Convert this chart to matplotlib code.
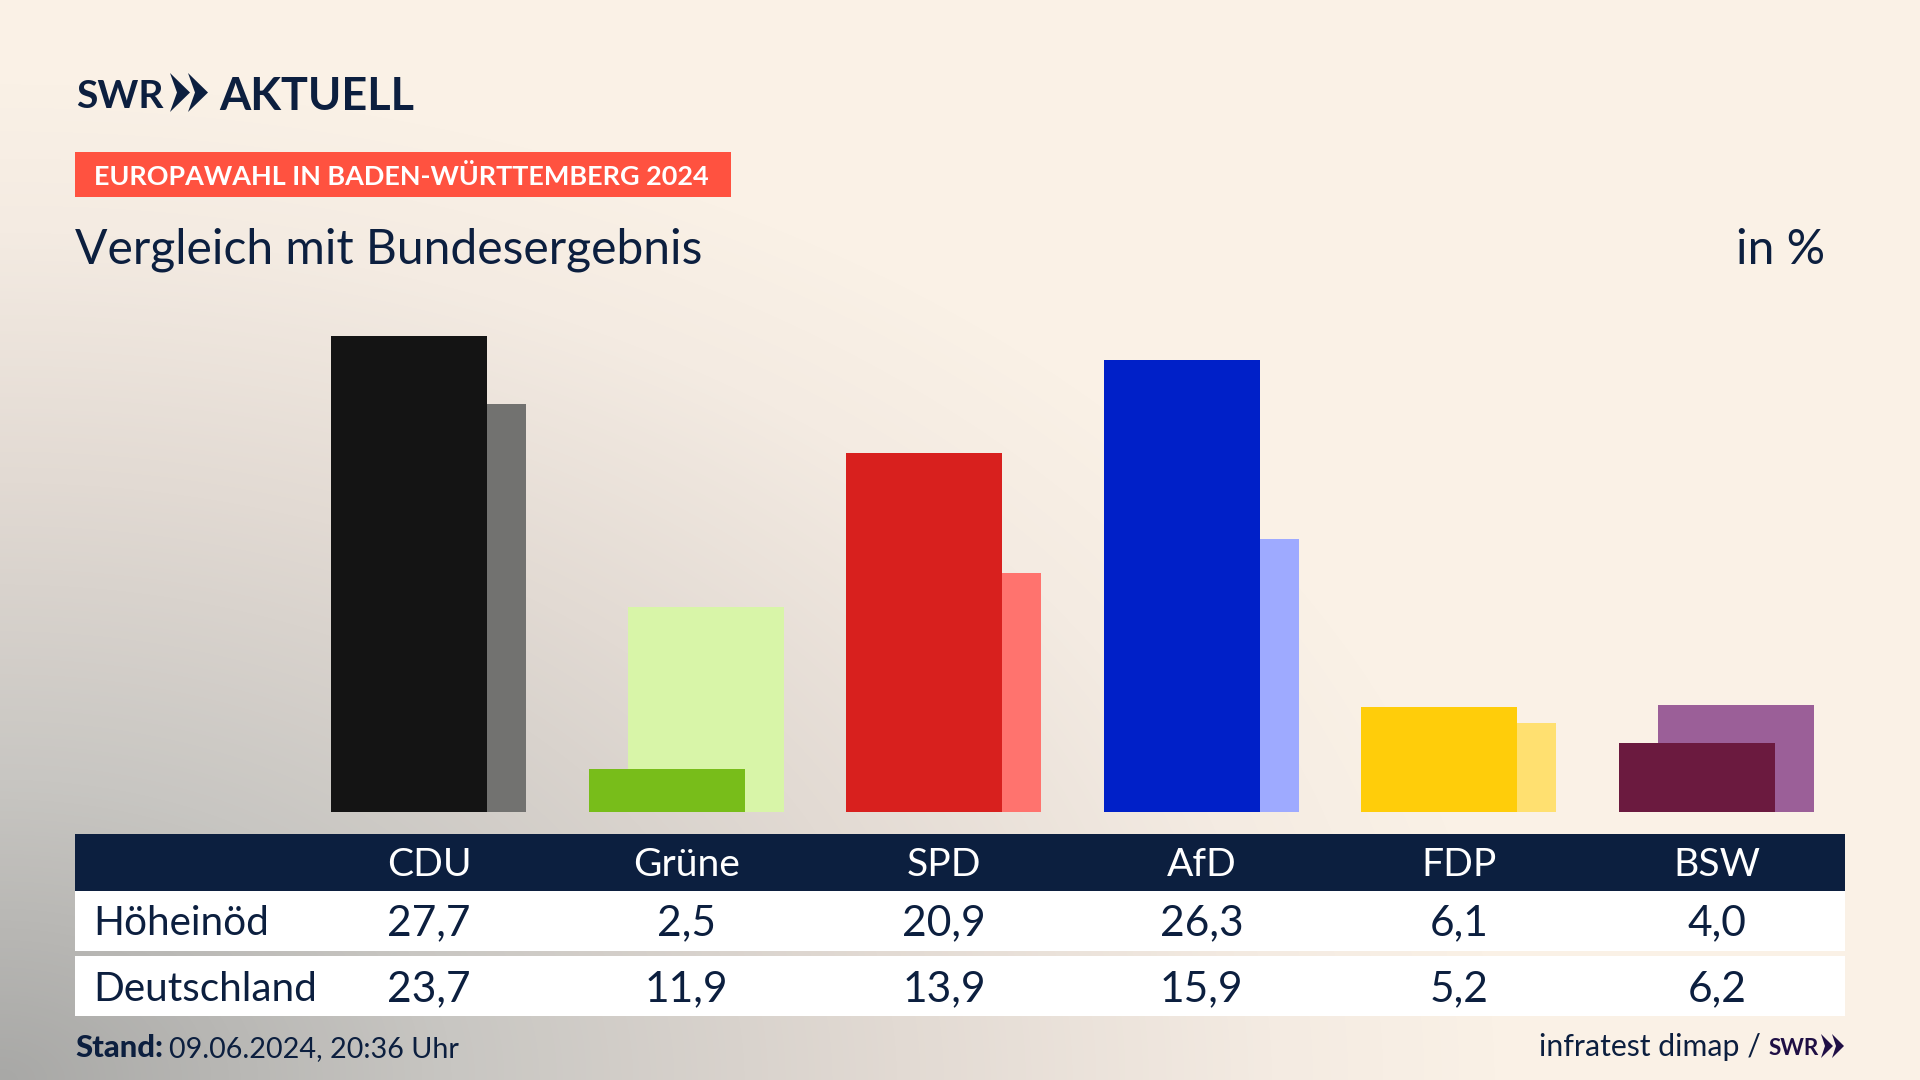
import numpy as np
import matplotlib
matplotlib.use("Agg")
import matplotlib.pyplot as plt
from matplotlib.colors import LinearSegmentedColormap
from matplotlib.patches import Polygon, Rectangle

# data
parties = ["CDU", "Grüne", "SPD", "AfD", "FDP", "BSW"]
hoeheinoed = [27.7, 2.5, 20.9, 26.3, 6.1, 4.0]
deutschland = [23.7, 11.9, 13.9, 15.9, 5.2, 6.2]
hoeheinoed_labels = ["27,7", "2,5", "20,9", "26,3", "6,1", "4,0"]
deutschland_labels = ["23,7", "11,9", "13,9", "15,9", "5,2", "6,2"]
main_colors = ["#141414", "#78bd1a", "#d8201e", "#0020c8", "#ffcd0a", "#6b1a3f"]
ghost_colors = ["#727270", "#d8f5a8", "#ff736e", "#9eaaff", "#ffe070", "#9b5f98"]

NAVY = "#0c1f3f"
W, H = 1920, 1080
plt.rcParams["font.family"] = ["Lato", "DejaVu Sans"]


def px(size):
    # font size in pixels -> points at dpi 100
    return size * 0.72


fig = plt.figure(figsize=(W / 100, H / 100), dpi=100)

# background: grey corner bottom left fading to cream
bg = fig.add_axes([0, 0, 1, 1], zorder=0)
yy, xx = np.mgrid[0:H, 0:W]
dist = np.sqrt((xx / 1500.0) ** 2 + ((H - yy) / 1000.0) ** 2)
cmap = LinearSegmentedColormap.from_list(
    "bg",
    [(0.0, "#a8a8a6"), (0.3, "#c8c6c2"), (0.6, "#e2dad3"), (0.85, "#f4ebe2"), (1.0, "#faf1e6")],
)
bg.imshow(np.clip(dist, 0, 1), cmap=cmap, vmin=0, vmax=1, aspect="auto", extent=[0, W, H, 0])
bg.axis("off")

# bars: group i is centred at 429 + 257.55 * i px, zero line at y = 812 px, 17.2 px per percent
step = 257.55
chart = fig.add_axes([0, (H - 812) / H, 1, 812 / H], zorder=1)
chart.set_xlim(-429 / step, (W - 429) / step)
chart.set_ylim(0, 812 / 17.2)
chart.patch.set_alpha(0)
chart.axis("off")
x = np.arange(len(parties))
bar_w = 156 / step
chart.bar(x + 19 / step, deutschland, width=bar_w, color=ghost_colors, zorder=1)
chart.bar(x - 20 / step, hoeheinoed, width=bar_w, color=main_colors, zorder=2)

# everything else in pixel coordinates
ov = fig.add_axes([0, 0, 1, 1], zorder=2)
ov.set_xlim(0, W)
ov.set_ylim(H, 0)
ov.patch.set_alpha(0)
ov.axis("off")

# logo
ov.text(76, 108, "SWR", fontsize=px(39), fontweight="bold", color=NAVY, va="baseline")
for x0 in (170, 188):
    ov.add_patch(Polygon([(x0, 73), (x0 + 20, 92.5), (x0, 112), (x0 + 7, 92.5)], color=NAVY, lw=0))
ov.text(219, 110, "AKTUELL", fontsize=px(45), fontweight="bold", color=NAVY, va="baseline")

# red label, title
ov.add_patch(Rectangle((75, 152), 656, 45, color="#ff5240", lw=0))
ov.text(94, 185, "EUROPAWAHL IN BADEN-WÜRTTEMBERG 2024", fontsize=px(27), fontweight="bold",
        color="white", va="baseline")
ov.text(75, 264, "Vergleich mit Bundesergebnis", fontsize=px(48), color=NAVY, va="baseline")
ov.text(1825, 264, "in %", fontsize=px(48), color=NAVY, va="baseline", ha="right")

# table
ov.add_patch(Rectangle((75, 834), 1770, 56.5, color=NAVY, lw=0))
ov.add_patch(Rectangle((75, 890.5), 1770, 60.5, color="white", lw=0))
ov.add_patch(Rectangle((75, 956), 1770, 60, color="white", lw=0))
ov.text(93, 935, "Höheinöd", fontsize=px(40.5), color=NAVY, va="baseline")
ov.text(93, 1001, "Deutschland", fontsize=px(40.5), color=NAVY, va="baseline")
for i, party in enumerate(parties):
    cx = 429 + step * i
    ov.text(cx, 876, party, fontsize=px(39), color="white", va="baseline", ha="center")
    ov.text(cx, 935, hoeheinoed_labels[i], fontsize=px(42.5), color=NAVY, va="baseline", ha="center")
    ov.text(cx, 1001, deutschland_labels[i], fontsize=px(42.5), color=NAVY, va="baseline", ha="center")

# footer
ov.text(75, 1057, "Stand:", fontsize=px(31), fontweight="black", color=NAVY, va="baseline")
ov.text(169, 1057, "09.06.2024, 20:36 Uhr", fontsize=px(28.7), color=NAVY, va="baseline")
ov.text(1539, 1056, "infratest dimap /", fontsize=px(30.3), color=NAVY, va="baseline")
ov.text(1769, 1055, "SWR", fontsize=px(22.5), fontweight="bold", color="#1f0f45", va="baseline")
for x0 in (1821, 1832):
    ov.add_patch(Polygon([(x0, 1034), (x0 + 12, 1046), (x0, 1058), (x0 + 4, 1046)], color="#1f0f45", lw=0))

fig.savefig("out.png", dpi=100)
